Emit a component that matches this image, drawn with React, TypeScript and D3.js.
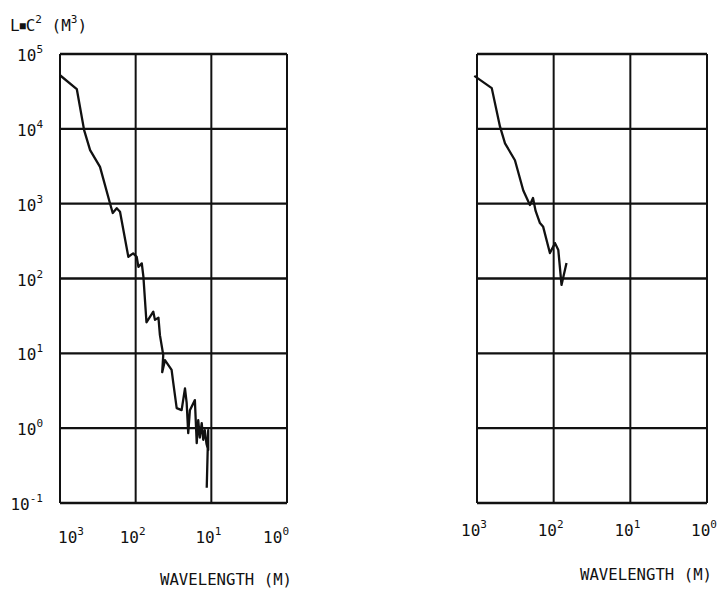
import React from "react";
import * as d3 from "d3";

// values (wavelength in m, L*C^2 in m^3)
const leftWavelength = [1000, 600, 480, 400, 296, 219, 201, 178, 161, 125, 108, 97, 92, 83, 79, 72, 58.5, 55.6, 50, 47.8, 43.2, 44.6, 41, 33.5, 31.8, 28.7, 24.7, 22.3, 21.2, 20.2, 19.2, 16.5, 15.6, 14.9, 14.2, 13.4, 12.8, 12.2, 11.6, 11.0, 11.0, 11.5];
const leftValue = [52000, 34000, 9600, 5200, 3100, 1020, 750, 870, 780, 195, 217, 195, 143, 159, 105, 26, 36, 28, 30, 17.5, 9.5, 5.6, 8.1, 6.0, 4.0, 1.85, 1.74, 3.4, 2.2, 0.86, 1.74, 2.37, 0.63, 1.28, 0.75, 1.17, 0.7, 0.94, 0.62, 0.51, 0.94, 0.16];

const rightWavelength = [1084, 642, 501, 431, 320, 249, 204, 186, 172, 151, 137, 112, 96, 87, 79, 68];
const rightValue = [51000, 35000, 10700, 6400, 3800, 1500, 960, 1190, 800, 550, 490, 219, 297, 240, 82, 161];

const xTicks = [1000, 100, 10, 1];
const yTicks = [1e5, 1e4, 1e3, 1e2, 1e1, 1e0, 1e-1];

const FONT = "'DejaVu Sans Mono', monospace";
const INK = "#111";

function Pow({ x, y, v, anchor }: { x: number; y: number; v: number; anchor: string }) {
  const e = Math.round(Math.log10(v));
  return (
    <text x={x} y={y} textAnchor={anchor} fontFamily={FONT} fontSize={16} fill={INK}>
      10
      <tspan dy={-8} fontSize={11}>{e}</tspan>
    </text>
  );
}

function Panel({ x0, x1, wl, vals, yLabels, labelY, clampEnds, titleY }: any) {
  const x = d3.scaleLog().domain([1000, 1]).range([x0, x1]);
  const y = d3.scaleLog().domain([0.1, 1e5]).range([503, 54]);
  const pts = wl.map((w: number, i: number) => [w, vals[i]] as [number, number]);
  const line = d3.line<[number, number]>().x((d) => x(d[0])).y((d) => y(d[1]));
  return (
    <g>
      {yTicks.map((t) => (
        <line key={"h" + t} x1={x0} x2={x1} y1={y(t)} y2={y(t)} stroke={INK} strokeWidth={2.4} />
      ))}
      {xTicks.map((t) => (
        <line key={"v" + t} x1={x(t)} x2={x(t)} y1={54} y2={503} stroke={INK} strokeWidth={2} />
      ))}
      <path d={line(pts) || ""} fill="none" stroke={INK} strokeWidth={2.3} strokeLinejoin="round" />
      {xTicks.map((t, i) => {
        let anchor = "middle";
        let dx = -3;
        if (clampEnds && i === 0) { anchor = "start"; dx = -2; }
        if (clampEnds && i === xTicks.length - 1) { anchor = "end"; dx = 2; }
        return <Pow key={"xl" + t} x={x(t) + dx} y={labelY} v={t} anchor={anchor} />;
      })}
      {yLabels &&
        yTicks.map((t) => <Pow key={"yl" + t} x={43} y={y(t) + 7} v={t} anchor="end" />)}
      <text x={x1 + 5} y={titleY} textAnchor="end" fontFamily={FONT} fontSize={15} fill={INK}
        textLength={132} lengthAdjust="spacingAndGlyphs">
        WAVELENGTH (M)
      </text>
    </g>
  );
}

export default function App() {
  return (
    <svg width={725} height={591} style={{ position: "absolute", left: 0, top: 0, background: "#fff" }}>
      <rect width={725} height={591} fill="#fff" />
      <text x={10} y={31} fontFamily={FONT} fontSize={16} fill={INK}>
        L<tspan fontSize={10} dy={-2}>■</tspan><tspan dy={2}>C</tspan>
        <tspan dy={-8} fontSize={11}>2</tspan>
        <tspan dy={8}> (M</tspan>
        <tspan dy={-8} fontSize={11}>3</tspan>
        <tspan dy={8}>)</tspan>
      </text>
      <Panel x0={60} x1={287} wl={leftWavelength} vals={leftValue} yLabels={true}
        labelY={543} clampEnds={true} titleY={585} />
      <Panel x0={477} x1={707} wl={rightWavelength} vals={rightValue} yLabels={false}
        labelY={536} clampEnds={false} titleY={580} />
    </svg>
  );
}
